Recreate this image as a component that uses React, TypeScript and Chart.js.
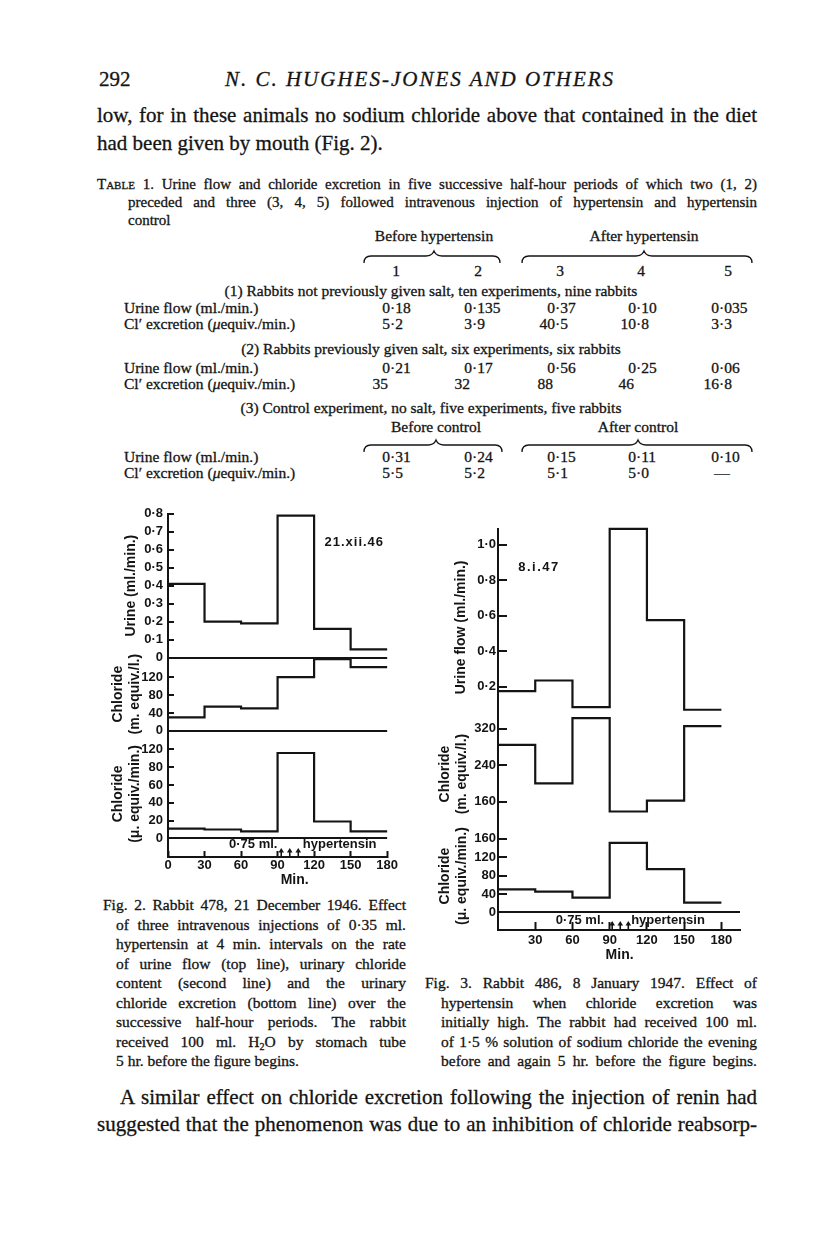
import React, { useEffect, useRef } from 'react';
import { Chart, registerables } from 'chart.js';

Chart.register(...registerables);

const INK = '#141414';
const SANS = '"Liberation Sans", Arial, sans-serif';
const SERIF = '"Liberation Serif", "Times New Roman", serif';

// ---------- shared time base (minutes) ----------
const periodStarts = [0, 30, 60, 90, 120, 150];
const periodEnd = 180;

// ---------- Fig. 2 : Rabbit 478, 21.xii.46 ----------
const fig2UrineFlow = [0.41, 0.2, 0.19, 0.79, 0.16, 0.045];
const fig2ChlorideContent = [30, 54, 50, 120, 160, 142];
const fig2ChlorideExcretion = [11, 10, 8, 96, 19, 8];
const fig2UrineTicks = [0, 0.1, 0.2, 0.3, 0.4, 0.5, 0.6, 0.7, 0.8];
const fig2UrineTickLabels = ['0', '0·1', '0·2', '0·3', '0·4', '0·5', '0·6', '0·7', '0·8'];
const fig2ContentTicks = [0, 40, 80, 120];
const fig2ContentTickLabels = ['0', '40', '80', '120'];
const fig2ExcretionTicks = [0, 20, 40, 60, 80, 100];
const fig2ExcretionTickLabels = ['0', '20', '40', '60', '80', '120'];
const fig2MinuteTicks = [0, 30, 60, 90, 120, 150, 180];
const fig2Injections = [93, 100, 107];

// ---------- Fig. 3 : Rabbit 486, 8.i.47 ----------
const fig3UrineFlow = [0.175, 0.235, 0.085, 1.09, 0.575, 0.07];
const fig3ChlorideContent = [285, 200, 344, 138, 162, 326];
const fig3ChlorideExcretion = [50, 45, 32, 151, 94, 21];
const fig3UrineTicks = [0.2, 0.4, 0.6, 0.8, 1.0];
const fig3UrineTickLabels = ['0·2', '0·4', '0·6', '0·8', '1·0'];
const fig3ContentTicks = [160, 240, 320];
const fig3ContentTickLabels = ['160', '240', '320'];
const fig3ExcretionTicks = [0, 40, 80, 120, 160];
const fig3ExcretionTickLabels = ['0', '40', '80', '120', '160'];
const fig3MinuteTicks = [30, 60, 90, 120, 150, 180];
const fig3Injections = [92, 98.5, 105];

// ---------- Table 1 ----------
const tableColumns = ['1', '2', '3', '4', '5'];
const t1Urine = ['0·18', '0·135', '0·37', '0·10', '0·035'];
const t1Chloride = ['5·2', '3·9', '40·5', '10·8', '3·3'];
const t2Urine = ['0·21', '0·17', '0·56', '0·25', '0·06'];
const t2Chloride = ['35', '32', '88', '46', '16·8'];
const t3Urine = ['0·31', '0·24', '0·15', '0·11', '0·10'];
const t3Chloride = ['5·5', '5·2', '5·1', '5·0', '—'];

// ---------- helpers ----------
function stepPoints(values: number[]) {
  const pts = values.map((v, i) => ({ x: periodStarts[i], y: v }));
  pts.push({ x: periodEnd, y: values[values.length - 1] });
  return pts;
}

function stepLine(values: number[], yAxisID: string) {
  return {
    data: stepPoints(values),
    yAxisID,
    xAxisID: 'x',
    stepped: true,
    borderColor: INK,
    borderWidth: 2.2,
    pointRadius: 0,
    fill: false,
    clip: false,
    borderJoinStyle: 'miter',
  };
}

function yAxis(spec: any) {
  return {
    type: 'linear',
    position: 'left',
    stack: 'panels',
    stackWeight: spec.weight,
    min: spec.min,
    max: spec.max,
    afterBuildTicks: (s: any) => {
      s.ticks = spec.ticks.map((v: number) => ({ value: v }));
    },
    afterFit: (s: any) => {
      s.width = spec.width;
    },
    ticks: {
      autoSkip: false,
      padding: spec.labelPad,
      color: INK,
      font: { family: SANS, size: 13, weight: 'bold' },
      callback: (v: number) => {
        const i = spec.ticks.indexOf(v);
        return i >= 0 ? spec.labels[i] : '';
      },
    },
    grid: {
      drawOnChartArea: true,
      drawTicks: true,
      tickLength: spec.tickLen,
      tickColor: INK,
      tickWidth: 2,
      lineWidth: 2,
      color: (c: any) => (spec.zeroLine && c.tick && c.tick.value === 0 ? INK : 'rgba(0,0,0,0)'),
    },
    border: { display: true, color: INK, width: 2 },
    title: {
      display: true,
      text: spec.title,
      color: INK,
      font: { family: SANS, size: 14, weight: 'bold', lineHeight: 1.2 },
      padding: { top: spec.titlePad, bottom: 0 },
    },
  };
}

function xAxis(spec: any) {
  return {
    type: 'linear',
    position: 'bottom',
    min: spec.min,
    max: spec.max,
    afterBuildTicks: (s: any) => {
      s.ticks = spec.ticks.map((v: number) => ({ value: v }));
    },
    afterFit: (s: any) => {
      s.height = spec.height;
    },
    ticks: {
      autoSkip: false,
      maxRotation: 0,
      padding: spec.labelPad,
      color: INK,
      font: { family: SANS, size: 13, weight: 'bold' },
      callback: (v: number) => String(v),
    },
    grid: { drawOnChartArea: false, drawTicks: true, tickLength: spec.tickLen, tickColor: INK, tickWidth: 2 },
    border: { display: true, color: INK, width: 2 },
  };
}

function notes(a: any) {
  return {
    id: 'figureNotes',
    afterDraw(chart: any) {
      const { ctx, scales } = chart;
      const xs = scales.x;
      ctx.save();
      ctx.fillStyle = INK;
      ctx.strokeStyle = INK;
      ctx.textAlign = 'center';
      ctx.textBaseline = 'middle';
      for (const t of a.texts) {
        ctx.font = t.font;
        (ctx as any).letterSpacing = t.spacing || '0px';
        const px = xs.getPixelForValue(t.x);
        const py = t.yScale ? scales[t.yScale].getPixelForValue(t.y) : xs.top + t.dy;
        ctx.fillText(t.text, px, py);
      }
      (ctx as any).letterSpacing = '0px';
      ctx.lineWidth = 1.6;
      for (const m of a.arrows) {
        const px = xs.getPixelForValue(m);
        const yBase = xs.top - 1;
        const yTip = xs.top - 9;
        ctx.beginPath();
        ctx.moveTo(px, yBase);
        ctx.lineTo(px, yTip + 3);
        ctx.stroke();
        ctx.beginPath();
        ctx.moveTo(px, yTip);
        ctx.lineTo(px - 2.8, yTip + 4.5);
        ctx.lineTo(px + 2.8, yTip + 4.5);
        ctx.closePath();
        ctx.fill();
      }
      ctx.restore();
    },
  };
}

const BOLD13 = `bold 13px ${SANS}`;
const BOLD14 = `bold 14px ${SANS}`;

function buildFig2(): any {
  const W = 73;
  return {
    type: 'line',
    data: {
      datasets: [
        stepLine(fig2ChlorideExcretion, 'yExcretion'),
        stepLine(fig2ChlorideContent, 'yContent'),
        stepLine(fig2UrineFlow, 'yUrine'),
      ],
    },
    options: {
      animation: false,
      responsive: false,
      devicePixelRatio: 1,
      events: [],
      layout: { padding: { top: 11, right: 17, left: 0, bottom: 0 } },
      plugins: { legend: { display: false }, tooltip: { enabled: false } },
      scales: {
        x: xAxis({ min: 0, max: 180, ticks: fig2MinuteTicks, height: 38, tickLen: -6, labelPad: 7 }),
        yExcretion: yAxis({
          weight: 129, min: -20.9, max: 120.9, ticks: fig2ExcretionTicks, labels: fig2ExcretionTickLabels,
          zeroLine: true, width: W, tickLen: -6, labelPad: 11,
          title: ['Chloride', '(μ. equiv./min.)'], titlePad: 14.6,
        }),
        yContent: yAxis({
          weight: 75, min: 0, max: 163.6, ticks: fig2ContentTicks, labels: fig2ContentTickLabels,
          zeroLine: true, width: W, tickLen: -6, labelPad: 11,
          title: ['Chloride', '(m. equiv./l.)'], titlePad: 14.6,
        }),
        yUrine: yAxis({
          weight: 147, min: 0, max: 0.8, ticks: fig2UrineTicks, labels: fig2UrineTickLabels,
          zeroLine: true, width: W, tickLen: -6, labelPad: 11,
          title: 'Urine (ml./min.)', titlePad: 27.6,
        }),
      },
    },
    plugins: [
      notes({
        texts: [
          { text: '0·75 ml.', x: 70, dy: -13, font: BOLD13 },
          { text: 'hypertensin', x: 141, dy: -13, font: BOLD13 },
          { text: 'Min.', x: 104, dy: 23, font: BOLD14 },
          { text: '21.xii.46', x: 153, yScale: 'yUrine', y: 0.642, font: BOLD13, spacing: '1px' },
        ],
        arrows: fig2Injections,
      }),
    ],
  };
}

function buildFig3(): any {
  const W = 78;
  return {
    type: 'line',
    data: {
      datasets: [
        stepLine(fig3ChlorideExcretion, 'yExcretion'),
        stepLine(fig3ChlorideContent, 'yContent'),
        stepLine(fig3UrineFlow, 'yUrine'),
      ],
    },
    options: {
      animation: false,
      responsive: false,
      devicePixelRatio: 1,
      events: [],
      layout: { padding: { top: 11, right: 20, left: 0, bottom: 0 } },
      plugins: { legend: { display: false }, tooltip: { enabled: false } },
      scales: {
        x: xAxis({ min: 0, max: 195, ticks: fig3MinuteTicks, height: 40, tickLen: -8, labelPad: 11 }),
        yExcretion: yAxis({
          weight: 110, min: -38.4, max: 196.3, ticks: fig3ExcretionTicks, labels: fig3ExcretionTickLabels,
          zeroLine: true, width: W, tickLen: -9, labelPad: 11,
          title: ['Chloride', '(μ. equiv./min.)'], titlePad: 16.6,
        }),
        yContent: yAxis({
          weight: 98, min: 114.6, max: 326.5, ticks: fig3ContentTicks, labels: fig3ContentTickLabels,
          zeroLine: false, width: W, tickLen: -9, labelPad: 11,
          title: ['Chloride', '(m. equiv./l.)'], titlePad: 16.6,
        }),
        yUrine: yAxis({
          weight: 201, min: -0.0213, max: 1.0904, ticks: fig3UrineTicks, labels: fig3UrineTickLabels,
          zeroLine: false, width: W, tickLen: -9, labelPad: 11,
          title: 'Urine flow (ml./min.)', titlePad: 32.6,
        }),
      },
    },
    plugins: [
      notes({
        texts: [
          { text: '0·75 ml.', x: 66, dy: -10, font: BOLD13 },
          { text: 'hypertensin', x: 137, dy: -10, font: BOLD13 },
          { text: 'Min.', x: 98, dy: 25, font: BOLD14 },
          { text: '8.i.47', x: 33, yScale: 'yUrine', y: 0.87, font: BOLD13, spacing: '1.5px' },
        ],
        arrows: fig3Injections,
      }),
    ],
  };
}

function FigureChart({ left, top, width, height, build }: any) {
  const ref = useRef<HTMLCanvasElement>(null);
  useEffect(() => {
    const chart = new Chart(ref.current as HTMLCanvasElement, build());
    return () => chart.destroy();
  }, []);
  return (
    <canvas
      ref={ref}
      width={width}
      height={height}
      style={{ position: 'absolute', left, top, width, height }}
    />
  );
}

// ---------- text helpers ----------
function Txt({ x, y, size, w, align = 'left', italic, children, style }: any) {
  const s: any = {
    position: 'absolute',
    top: Math.round(y - size * 0.62),
    fontSize: size,
    lineHeight: `${size}px`,
    whiteSpace: 'nowrap',
    fontStyle: italic ? 'italic' : 'normal',
    ...style,
  };
  if (align === 'justify') {
    s.left = x;
    s.width = w;
    s.textAlign = 'justify';
    s.textAlignLast = 'justify';
  } else if (align === 'center') {
    s.left = x - 400;
    s.width = 800;
    s.textAlign = 'center';
  } else {
    s.left = x;
  }
  return <div style={s}>{children}</div>;
}

const TABLE_SIZE = 15.5;
const dotX = [390, 472, 555, 636, 719];
const colCenter = [396, 478, 560, 641, 728];

function Row({ y, label, values }: any) {
  return (
    <>
      <Txt x={124} y={y} size={TABLE_SIZE}>{label}</Txt>
      {values.map((v: string, i: number) => {
        const top = Math.round(y - TABLE_SIZE * 0.62);
        const base: any = { position: 'absolute', top, fontSize: TABLE_SIZE, lineHeight: `${TABLE_SIZE}px`, whiteSpace: 'nowrap' };
        if (v === '—') {
          return <div key={i} style={{ ...base, left: dotX[i] - 20, width: 46, textAlign: 'center' }}>{v}</div>;
        }
        const parts = v.split('·');
        if (parts.length === 1) {
          return <div key={i} style={{ ...base, left: dotX[i] - 82, width: 80, textAlign: 'right' }}>{v}</div>;
        }
        return (
          <React.Fragment key={i}>
            <div style={{ ...base, left: dotX[i] - 80, width: 80, textAlign: 'right' }}>{parts[0]}</div>
            <div style={{ ...base, left: dotX[i] }}>{'·' + parts[1]}</div>
          </React.Fragment>
        );
      })}
    </>
  );
}

function brace(x1: number, x2: number, mid: number, y: number) {
  return `M ${x1} ${y + 7} Q ${x1} ${y} ${x1 + 7} ${y} L ${mid - 8} ${y} Q ${mid - 2} ${y} ${mid} ${y - 5} Q ${mid + 2} ${y} ${mid + 8} ${y} L ${x2 - 7} ${y} Q ${x2} ${y} ${x2} ${y + 7}`;
}

const fig2Caption = [
  'Fig. 2. Rabbit 478, 21 December 1946. Effect',
  'of three intravenous injections of 0·35 ml.',
  'hypertensin at 4 min. intervals on the rate',
  'of urine flow (top line), urinary chloride',
  'content (second line) and the urinary',
  'chloride excretion (bottom line) over the',
  'successive half-hour periods. The rabbit',
  'RECEIVED',
  '5 hr. before the figure begins.',
];
const fig3Caption = [
  'Fig. 3. Rabbit 486, 8 January 1947. Effect of',
  'hypertensin when chloride excretion was',
  'initially high. The rabbit had received 100 ml.',
  'of 1·5 % solution of sodium chloride the evening',
  'before and again 5 hr. before the figure begins.',
];

const CAP = 15.5;
const LEFT = 97;
const RIGHT = 757;

export default function App() {
  return (
    <div
      style={{
        position: 'absolute', left: 0, top: 0, width: 816, height: 1258, background: '#fff',
        overflow: 'hidden', fontFamily: SERIF, color: INK, WebkitTextStroke: '0.3px #141414',
      }}
    >
      {/* running head */}
      <Txt x={99} y={82} size={21}>292</Txt>
      <Txt x={420} y={82} size={21} align="center" italic style={{ letterSpacing: 2 }}>
        N. C. HUGHES-JONES AND OTHERS
      </Txt>

      {/* body text */}
      <Txt x={LEFT} y={118} size={21} w={RIGHT - LEFT} align="justify">
        low, for in these animals no sodium chloride above that contained in the diet
      </Txt>
      <Txt x={LEFT} y={146} size={21}>had been given by mouth (Fig. 2).</Txt>

      {/* table caption */}
      <Txt x={LEFT} y={186} size={15} w={RIGHT - LEFT} align="justify">
        <span style={{ fontVariant: 'small-caps' }}>Table</span> 1. Urine flow and chloride excretion in five successive half-hour periods of which two (1, 2)
      </Txt>
      <Txt x={128} y={204} size={15} w={RIGHT - 128} align="justify">
        preceded and three (3, 4, 5) followed intravenous injection of hypertensin and hypertensin
      </Txt>
      <Txt x={128} y={222} size={15}>control</Txt>

      {/* table heads */}
      <Txt x={434} y={238} size={TABLE_SIZE} align="center">Before hypertensin</Txt>
      <Txt x={644} y={238} size={TABLE_SIZE} align="center">After hypertensin</Txt>
      {tableColumns.map((c, i) => (
        <Txt key={c} x={colCenter[i]} y={273} size={TABLE_SIZE} align="center">{c}</Txt>
      ))}

      <Txt x={431} y={293} size={TABLE_SIZE} align="center">
        (1) Rabbits not previously given salt, ten experiments, nine rabbits
      </Txt>
      <Row y={310} label="Urine flow (ml./min.)" values={t1Urine} />
      <Row y={326} label={<span>Cl′ excretion (<i>μ</i>equiv./min.)</span>} values={t1Chloride} />

      <Txt x={431} y={351} size={TABLE_SIZE} align="center">
        (2) Rabbits previously given salt, six experiments, six rabbits
      </Txt>
      <Row y={370} label="Urine flow (ml./min.)" values={t2Urine} />
      <Row y={386} label={<span>Cl′ excretion (<i>μ</i>equiv./min.)</span>} values={t2Chloride} />

      <Txt x={431} y={410} size={TABLE_SIZE} align="center">
        (3) Control experiment, no salt, five experiments, five rabbits
      </Txt>
      <Txt x={436} y={429} size={TABLE_SIZE} align="center">Before control</Txt>
      <Txt x={638} y={429} size={TABLE_SIZE} align="center">After control</Txt>
      <Row y={459} label="Urine flow (ml./min.)" values={t3Urine} />
      <Row y={475} label={<span>Cl′ excretion (<i>μ</i>equiv./min.)</span>} values={t3Chloride} />

      <svg width={816} height={1258} style={{ position: 'absolute', left: 0, top: 0, pointerEvents: 'none' }}>
        <g fill="none" stroke={INK} strokeWidth={1.3}>
          <path d={brace(364, 500, 434, 256)} />
          <path d={brace(522, 752, 644, 256)} />
          <path d={brace(364, 502, 436, 445)} />
          <path d={brace(522, 752, 638, 445)} />
        </g>
      </svg>

      {/* figures */}
      <FigureChart left={95} top={495} width={310} height={400} build={buildFig2} />
      <FigureChart left={420} top={510} width={340} height={460} build={buildFig3} />

      {/* figure captions */}
      {fig2Caption.map((line, i) => {
        const y = 907 + 19.5 * i;
        const x = i === 0 ? 103 : 116;
        const last = i === fig2Caption.length - 1;
        const content =
          line === 'RECEIVED' ? (
            <span>received 100 ml. H<sub style={{ fontSize: 10, verticalAlign: '-3px' }}>2</sub>O by stomach tube</span>
          ) : (
            line
          );
        return (
          <Txt key={i} x={x} y={y} size={CAP} w={406 - x} align={last ? 'left' : 'justify'}>
            {content}
          </Txt>
        );
      })}
      {fig3Caption.map((line, i) => {
        const y = 907 + 19.5 * (i + 4);
        const x = i === 0 ? 425 : 441;
        return (
          <Txt key={i} x={x} y={y} size={CAP} w={RIGHT - x} align="justify">
            {line}
          </Txt>
        );
      })}

      {/* body text bottom */}
      <Txt x={120} y={1100} size={21} w={RIGHT - 120} align="justify">
        A similar effect on chloride excretion following the injection of renin had
      </Txt>
      <Txt x={LEFT} y={1127} size={21} w={RIGHT - LEFT} align="justify">
        suggested that the phenomenon was due to an inhibition of chloride reabsorp-
      </Txt>
    </div>
  );
}
